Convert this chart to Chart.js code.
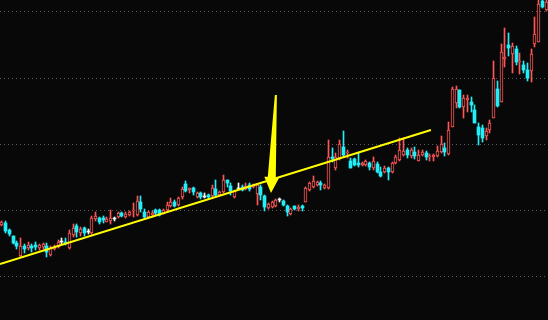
<!DOCTYPE html>
<html>
<head>
<meta charset="utf-8">
<script src="https://cdn.jsdelivr.net/npm/chart.js@4.4.1/dist/chart.umd.min.js"></script>
<style>
  html, body { margin: 0; padding: 0; background: #080808; }
  #kline { display: block; }
</style>
</head>
<body>
<canvas id="kline" width="548" height="320"></canvas>
<script>
// daily candles, price in chart units
const OPEN = [
  95, 97, 90, 84, 77, 64, 74, 72, 74, 75.5,
  72, 73, 74, 65, 71, 73, 78, 78.5, 72, 85,
  94, 87, 92, 88, 87, 101, 102, 102, 98.5, 99,
  101.5, 103, 107, 103.5, 105, 109.5, 105, 118, 108, 103.5,
  105, 110, 110, 106.5, 110, 114.5, 118, 115, 123, 135.7,
  130, 132.3, 123.3, 127.3, 123.3, 125, 124.3, 131, 125, 127.7,
  140, 134.3, 123.3, 131.5, 133.3, 131, 135, 133, 126, 132.7,
  124, 112.3, 113.3, 114, 120, 119.3, 114.3, 105.7, 114, 111,
  114, 118.3, 130, 133.5, 135, 137.3, 131.7, 131.7, 163, 151.7,
  161.7, 173.3, 166.7, 159, 160.7, 157.3, 155, 155, 156.7, 151.7,
  155.7, 148.3, 148.3, 151.7, 148.3, 156.7, 160, 165, 170, 164,
  168.3, 159.3, 165, 167.3, 162.7, 162.7, 164, 168.3, 171.7, 166,
  192.7, 216.7, 230, 213.3, 220, 218.3, 210, 192.7, 191.7, 184,
  190, 201.7, 230.7, 218.3, 261, 275, 265.7, 270.7, 257.7, 255,
  250, 249, 275.7, 278.3, 319, 310
];
const CLOSE = [
  98, 89, 86, 77, 74, 74, 71, 75, 72, 73.5,
  75, 76, 68, 72, 73, 78, 78, 77, 87, 92,
  88, 91, 87, 88, 102, 104, 98, 100, 101, 102,
  101.5, 107, 104.5, 106.5, 108, 110.5, 119, 111, 103, 108,
  107, 107.5, 105, 110, 115, 118.5, 114, 122, 131.5, 129,
  131.7, 127.7, 126.7, 123.3, 123.3, 122.7, 131.7, 125, 128.3, 140,
  136.7, 129, 129, 131.5, 130, 134, 131.5, 135, 135, 125,
  113, 115.7, 118.3, 119.7, 120, 115, 108, 111, 111, 113,
  112, 131.7, 136.7, 139.5, 138, 135, 135, 163, 161.5, 163.3,
  175.7, 165, 168.3, 152.3, 155, 155, 156.7, 159, 153.3, 159,
  147.7, 144.3, 152.3, 148.3, 156.7, 163.3, 170, 169, 165, 170,
  164, 165, 168.3, 163.3, 164, 165, 169.3, 176, 168.3, 190,
  230.7, 230.7, 213.3, 221.7, 221.7, 215, 196.7, 185, 181.7, 189,
  196.7, 242, 214, 268, 262.7, 271.7, 274, 258.3, 259.3, 250,
  242.3, 266, 286, 316, 312.7, 318
];
const HIGH = [
  99, 99, 91, 84, 79, 82, 76, 78, 76, 78,
  76, 77, 77, 74, 75, 80, 82, 82, 90, 96,
  96, 93, 93, 91, 104, 108.5, 103, 104, 103, 110,
  103.5, 108.5, 108.5, 108, 109.5, 117, 124, 124, 111, 109.5,
  109.5, 111, 111, 111, 118, 122.5, 120, 123, 133, 139.3,
  132.3, 133.3, 128, 128, 126.7, 126, 135, 140, 129, 145,
  140, 136.7, 130, 136.7, 135, 136.7, 137, 136, 136, 135,
  125, 117, 119.5, 121, 121.7, 120, 115, 112, 114.5, 115,
  115, 133, 138, 144, 139.5, 139, 136, 180, 172.3, 167,
  180, 189.3, 170, 162, 162, 166.7, 158, 160, 158, 163.3,
  158, 153.3, 154, 153, 158, 165, 181.7, 181.7, 171.7, 171.7,
  173.3, 170, 170, 169.3, 166, 166, 174, 184, 176.7, 198.3,
  233.3, 234, 230, 225, 225, 223.3, 215, 197.3, 195, 192,
  200, 259, 239, 276, 291.7, 287.3, 276.7, 274, 266.7, 259,
  256.7, 270.7, 303.3, 322, 322, 322
];
const LOW = [
  94, 87, 84, 76, 71, 63, 67, 70, 68, 70,
  70, 71, 63, 64, 70, 72, 76, 75, 71, 83,
  83, 84, 84, 86, 86, 99, 96, 97, 98, 96,
  99, 102, 103, 102.5, 104, 103, 104, 108, 101, 102,
  103.5, 105, 104, 106, 109, 113, 113, 114, 121.5, 127.7,
  126.7, 125, 122.5, 120.7, 121.7, 121.5, 123.5, 124, 124.5, 126.7,
  133.3, 125, 122.5, 131, 129, 130, 129, 132, 115, 120,
  109, 111.5, 112.5, 113, 118.3, 114, 104.3, 105.2, 110, 109,
  109, 117.7, 129, 131.7, 134, 130, 131, 131, 158.3, 150,
  160, 163.3, 161.7, 152, 154, 153.3, 154, 154, 150, 150,
  147, 142.7, 147.5, 140, 147.5, 156, 159, 164, 161.7, 161.7,
  160.7, 159.3, 164, 160, 159.3, 159.3, 163.3, 167.3, 164, 165,
  192.7, 211.7, 212, 201.7, 208.3, 208.3, 196.7, 175, 178, 180,
  187, 201.7, 212.7, 218.3, 253.3, 264.3, 247.3, 255, 246, 246.7,
  239.3, 238.3, 273.3, 278, 312, 309
];
const LABELS = OPEN.map((_, i) => 'D' + (i + 1));

// horizontal reference levels
const GRID_LEVELS = [44, 110, 176, 242, 308];

// support line, in candle index / price
const TREND_X = [-0.5, 114.3];
const TREND_Y = [56, 190];

// marker arrow: from (tail) -> to (tip)
const ARROW_X = [73.0, 71.7];
const ARROW_Y = [225, 127];

const BG = '#080808';
const RED = '#ff5656';
const CYAN = '#22eef8';
const WHITE = '#f4f4f4';
const YELLOW = '#ffff00';
const GRID = '#5c5c5c';

const kind = OPEN.map((o, i) => CLOSE[i] > o ? 'up' : (CLOSE[i] < o ? 'down' : 'flat'));
const tone = { up: RED, down: CYAN, flat: WHITE };

// snap candle bars onto whole pixels so wicks and hollow bodies stay crisp
const snapPlugin = {
    id: 'snap',
    afterDatasetsUpdate(chart) {
        chart.getSortedVisibleDatasetMetas().forEach(meta => {
            if (meta.type !== 'bar') return;
            meta.data.forEach(el => {
                el.x = Math.floor(el.x) + 0.5;
                const y = Math.round(el.y);
                let b = Math.round(el.base);
                if (y === b) b = y + (el.base >= el.y ? 1 : -1);
                el.y = y;
                el.base = b;
                el.height = b - y;
            });
        });
    }
};

const arrowPlugin = {
    id: 'arrow',
    afterDatasetsDraw(chart) {
        const ctx = chart.ctx;
        const xs = chart.scales.xl, ys = chart.scales.y;
        const x0 = xs.getPixelForValue(ARROW_X[0]), y0 = ys.getPixelForValue(ARROW_Y[0]);
        const x1 = xs.getPixelForValue(ARROW_X[1]), y1 = ys.getPixelForValue(ARROW_Y[1]);
        const len = Math.hypot(x1 - x0, y1 - y0);
        const dx = (x1 - x0) / len, dy = (y1 - y0) / len;
        const nx = -dy, ny = dx;
        const headLen = 16, headHalf = 7.5, neckHalf = 4, tailHalf = 1;
        const bx = x1 - dx * headLen, by = y1 - dy * headLen;
        ctx.save();
        ctx.fillStyle = YELLOW;
        ctx.beginPath();
        ctx.moveTo(x0 + nx * tailHalf, y0 + ny * tailHalf);
        ctx.lineTo(bx + nx * neckHalf, by + ny * neckHalf);
        ctx.lineTo(bx + nx * headHalf, by + ny * headHalf);
        ctx.lineTo(x1, y1);
        ctx.lineTo(bx - nx * headHalf, by - ny * headHalf);
        ctx.lineTo(bx - nx * neckHalf, by - ny * neckHalf);
        ctx.lineTo(x0 - nx * tailHalf, y0 - ny * tailHalf);
        ctx.closePath();
        ctx.fill();
        ctx.restore();
    }
};

const kline = new Chart(document.getElementById('kline'), {
    type: 'bar',
    data: {
        labels: LABELS,
        datasets: [
            {
                // wicks
                data: LOW.map((l, i) => [l, HIGH[i]]),
                backgroundColor: kind.map(k => tone[k]),
                borderWidth: 0,
                barThickness: 1,
                grouped: false,
                order: 2
            },
            {
                // bodies: rising hollow red, falling solid cyan
                data: OPEN.map((o, i) => [o, CLOSE[i]]),
                backgroundColor: kind.map(k => k === 'up' ? BG : tone[k]),
                borderColor: kind.map(k => tone[k]),
                borderWidth: kind.map(k => k === 'up' ? 1 : 0),
                borderSkipped: false,
                barThickness: 3,
                minBarLength: 1,
                grouped: false,
                order: 1
            },
            {
                type: 'line',
                xAxisID: 'xl',
                data: TREND_X.map((x, i) => ({ x: x, y: TREND_Y[i] })),
                borderColor: YELLOW,
                borderWidth: 2,
                pointRadius: 0,
                order: 0
            }
        ]
    },
    options: {
        responsive: false,
        animation: false,
        devicePixelRatio: 1,
        layout: { padding: 0 },
        plugins: {
            legend: { display: false },
            tooltip: { enabled: false }
        },
        scales: {
            x: { display: false },
            xl: {
                type: 'linear',
                display: false,
                offset: false,
                grid: { offset: false },
                min: -0.5,
                max: OPEN.length - 0.5
            },
            y: {
                min: 0,
                max: 320,
                afterBuildTicks: axis => { axis.ticks = GRID_LEVELS.map(v => ({ value: v })); },
                ticks: { display: false },
                grid: { color: GRID, lineWidth: 1, drawTicks: false },
                border: { display: false, dash: [1, 3] }
            }
        }
    },
    plugins: [snapPlugin, arrowPlugin]
});
</script>
</body>
</html>
